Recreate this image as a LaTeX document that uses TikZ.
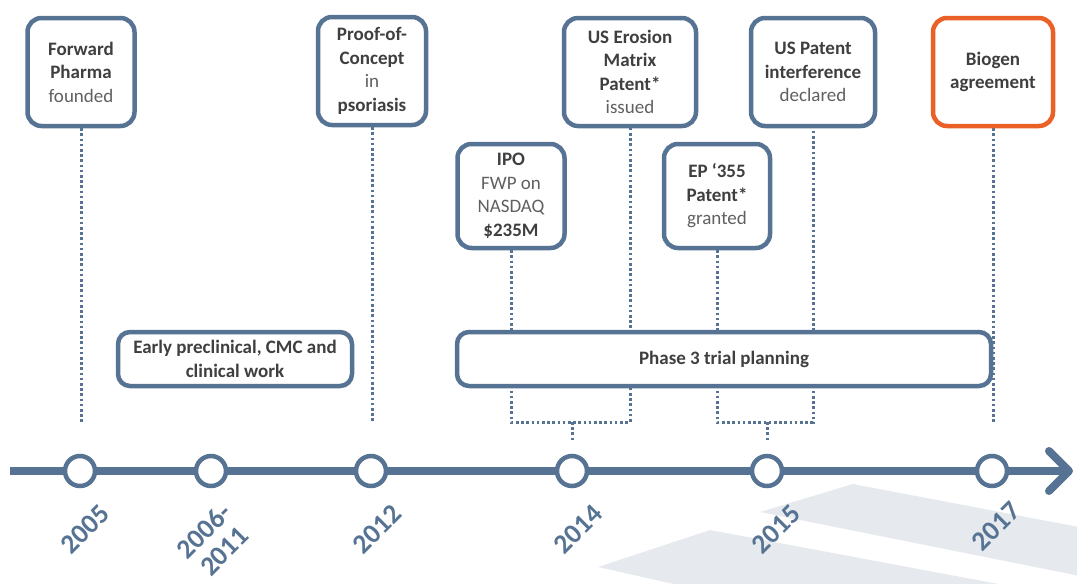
\documentclass[tikz,border=0pt]{standalone}
\usepackage{fontspec}
\setmainfont{Carlito}
\usetikzlibrary{shadows}
\definecolor{axisblue}{HTML}{567393}
\definecolor{boxorange}{HTML}{EB6026}
\definecolor{txtdark}{HTML}{3F3F3F}
\definecolor{txtgray}{HTML}{606060}
\definecolor{bandgray}{HTML}{E6EAEE}
\pgfdeclarelayer{bands}
\pgfdeclarelayer{bg}
\pgfsetlayers{bands,bg,main}
\newcommand{\lt}[1]{{\mdseries\color{txtgray}#1}}
\begin{document}
\begin{tikzpicture}[x=1pt,y=-1pt,
  evbox/.style={draw=axisblue, line width=4.5pt, rounded corners=14pt, fill=white,
    align=center, font=\fontsize{19}{23.5}\selectfont\bfseries, text=txtdark, inner sep=0pt,
    drop shadow={shadow xshift=1.5pt, shadow yshift=-1.5pt, opacity=0.3, fill=black!60}},
  dots/.style={draw=axisblue, line width=3pt, dash pattern=on 2.6pt off 2.6pt},
  axisline/.style={draw=axisblue, line width=8pt},
  yrcircle/.style={circle, draw=axisblue, line width=4.5pt, fill=white, minimum size=30pt, inner sep=0pt},
  yrlabel/.style={rotate=45, text=axisblue, font=\fontsize{27.5}{29}\selectfont\bfseries, align=center, inner sep=0pt}
]
\useasboundingbox (0,0) rectangle (1077,584);

% background bands
\begin{pgfonlayer}{bands}
\begin{scope}
\clip (0,0) rectangle (1077,584);
\fill[bandgray] (853,484) -- (1100,531) -- (1100,580) -- (760,512) -- cycle;
\fill[bandgray] (710,530) -- (1100,603) -- (1100,680) -- (598,567) -- cycle;
\end{scope}
\end{pgfonlayer}

% event boxes
\node[evbox, minimum width=107pt, minimum height=108pt] (fp) at (81,72)
  {Forward\\Pharma\\\lt{founded}};
\node[evbox, minimum width=108pt, minimum height=108pt] (poc) at (372,71)
  {Proof-of-\\Concept\\\lt{in}\\psoriasis};
\node[evbox, minimum width=132pt, minimum height=108pt] (use) at (630,72)
  {US Erosion\\Matrix\\Patent*\\\lt{issued}};
\node[evbox, minimum width=124pt, minimum height=108pt] (upi) at (813,72)
  {US Patent\\interference\\\lt{declared}};
\node[evbox, draw=boxorange, minimum width=120pt, minimum height=108pt] (bio) at (993,72)
  {Biogen\\agreement};
\node[evbox, minimum width=107pt, minimum height=104pt] (ipo) at (511,196)
  {IPO\\\lt{FWP on}\\\lt{NASDAQ}\\\$235M};
\node[evbox, minimum width=106pt, minimum height=104pt] (ep) at (717,196)
  {EP `355\\Patent*\\\lt{granted}};
\node[evbox, rounded corners=12pt, minimum width=234pt, minimum height=54pt] (early) at (235,359)
  {Early preclinical, CMC and\\clinical work};
\node[evbox, rounded corners=12pt, minimum width=534pt, minimum height=54pt] (ph3) at (724,359)
  {Phase 3 trial planning};

% timeline
\coordinate (axs) at (10,471);
\coordinate (axe) at (1069,471);
\draw[axisline] (axs) -- (axe);
\coordinate (ah1) at (1049,451);
\coordinate (ah2) at (1049,491);
\draw[axisblue, line width=8pt, line cap=round, line join=round] (ah1) -- (axe) -- (ah2);

\node[yrcircle] (t2005) at (80,471) {};
\node[yrcircle] (t2006) at (211,471) {};
\node[yrcircle] (t2012) at (371,471) {};
\node[yrcircle] (t2014) at (572,471) {};
\node[yrcircle] (t2015) at (767,471) {};
\node[yrcircle] (t2017) at (992,471) {};

% dotted connectors
\begin{pgfonlayer}{bg}
\coordinate (e1) at (81,422);
\coordinate (e2) at (372,422);
\coordinate (e3) at (993,422);
\draw[dots] (fp.south) -- (e1);
\draw[dots] (poc.south) -- (e2);
\draw[dots] (bio.south) -- (e3);
\coordinate (k1) at (511,422);
\coordinate (k2) at (630,422);
\coordinate (s1) at (572,422);
\coordinate (s1e) at (572,442);
\draw[dots] (ipo.south) -- (k1) -- (k2) -- (use.south);
\draw[dots] (s1) -- (s1e);
\coordinate (k3) at (717,422);
\coordinate (k4) at (813,422);
\coordinate (s2) at (767,422);
\coordinate (s2e) at (767,442);
\draw[dots] (ep.south) -- (k3) -- (k4) -- (upi.south);
\draw[dots] (s2) -- (s2e);
\end{pgfonlayer}

% years
\node[yrlabel] (y2005) at (85,529) {2005};
\node[yrlabel] (y2006) at (214,541) {2006-\\2011};
\node[yrlabel] (y2012) at (377,529) {2012};
\node[yrlabel] (y2014) at (578,529) {2014};
\node[yrlabel] (y2015) at (776,529) {2015};
\node[yrlabel] (y2017) at (996,526) {2017};
\end{tikzpicture}
\end{document}
